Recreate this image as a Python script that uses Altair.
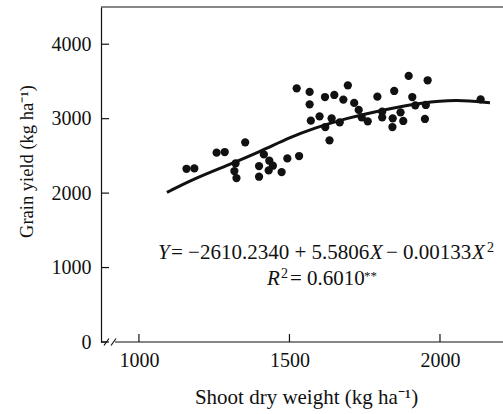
import altair as alt
import pandas as pd

# ---- data ----
shoot_dry_weight = [1158, 1184, 1258, 1285, 1353, 1321, 1317, 1324, 1399, 1399,
                    1415, 1433, 1445, 1431, 1474, 1493, 1532, 1524, 1567, 1567,
                    1571, 1600, 1618, 1619, 1633, 1640, 1649, 1679, 1667, 1694,
                    1715, 1730, 1740, 1760, 1792, 1808, 1808, 1842, 1843, 1848,
                    1869, 1878, 1896, 1908, 1918, 1950, 1953, 1959, 2135]
grain_yield = [2327, 2332, 2543, 2552, 2682, 2399, 2296, 2202, 2363, 2220,
               2520, 2435, 2368, 2305, 2283, 2466, 2498, 3408, 3359, 3193,
               2973, 3031, 3291, 2888, 2709, 3004, 3318, 3256, 2951, 3448,
               3211, 3117, 3018, 2964, 3296, 3094, 3018, 2888, 3004, 3372,
               3085, 2969, 3574, 3291, 3179, 2996, 3184, 3516, 3260]
fit_x = [1093, 1180, 1291, 1402, 1502, 1580, 1690, 1800, 1945, 2056, 2166]
fit_y = [2009, 2188, 2367, 2556, 2749, 2870, 3005, 3110, 3220, 3255, 3215]
x_ticks = [1000, 1500, 2000]
y_ticks = [0, 1000, 2000, 3000, 4000]

X_MIN, X_MAX = 874, 2206
Y_MIN, Y_MAX = 0, 4500
W, H = 401, 335
FONT = "Liberation Serif"
INK = "#111111"

xs = alt.Scale(domain=[X_MIN, X_MAX], nice=False, zero=False)
ys = alt.Scale(domain=[Y_MIN, Y_MAX], nice=False, zero=False)

x_axis = alt.Axis(values=x_ticks, format="d", title="Shoot dry weight (kg ha⁻¹)",
                  domain=False, ticks=False, grid=False, labelPadding=8,
                  titleX=205, titleY=61, titleBaseline="alphabetic",
                  titleAlign="center", titleFontSize=21)
y_axis = alt.Axis(values=y_ticks, format="d", title="Grain yield (kg ha⁻¹)",
                  domain=True, ticks=False, grid=False, labelPadding=10,
                  titleX=-69, titleY=154, titleBaseline="alphabetic",
                  titleAlign="center", titleFontSize=18.5)


def X(field):
    return alt.X(field, scale=xs, axis=x_axis)


def Y(field):
    return alt.Y(field, scale=ys, axis=y_axis)


pts = pd.DataFrame({"x": shoot_dry_weight, "y": grain_yield})
fit = pd.DataFrame({"x": fit_x, "y": fit_y})
xt = pd.DataFrame({"v": x_ticks, "z": [Y_MIN] * len(x_ticks)})
yt = pd.DataFrame({"v": y_ticks, "z": [X_MIN] * len(y_ticks)})
one = pd.DataFrame({"a": [0]})

points = alt.Chart(pts).mark_circle(size=68, color=INK, opacity=1).encode(
    x=X("x:Q"), y=Y("y:Q"))

curve = alt.Chart(fit).mark_line(color=INK, strokeWidth=3, interpolate="basis").encode(
    x=X("x:Q"), y=Y("y:Q"))

x_tick_marks = alt.Chart(xt).mark_tick(orient="vertical", size=8, thickness=1.2,
                                       yOffset=-4, color=INK, opacity=1).encode(
    x=X("v:Q"), y=Y("z:Q"))
y_tick_marks = alt.Chart(yt).mark_tick(orient="horizontal", size=8, thickness=1.2,
                                       xOffset=4, color=INK, opacity=1).encode(
    x=X("z:Q"), y=Y("v:Q"))


def seg(x1, y1, x2, y2):
    return alt.Chart(one).mark_rule(color=INK, strokeWidth=1.2).encode(
        x=alt.value(x1), y=alt.value(y1), x2=alt.value(x2), y2=alt.value(y2))


frame = [
    seg(0, 0, W + 2, 0),           # top border
    seg(0, H, 5, H),               # x axis stub before break
    seg(14, H, W + 2, H),          # x axis after break
    seg(3, H + 3.5, 8, H - 3.5),   # break slash 1
    seg(10, H + 3.5, 15, H - 3.5)  # break slash 2
]


def txt(s, x, y, size=21, style="normal", align="left"):
    return alt.Chart(one).mark_text(font=FONT, fontSize=size, fontStyle=style,
                                    align=align, baseline="alphabetic", color=INK).encode(
        x=alt.value(x), y=alt.value(y), text=alt.value(s))


L1, L2 = 252, 278
texts = [
    txt("Y", 57, L1, style="italic"),
    txt("= −2610.2340 + 5.5806", 70, L1),
    txt("X", 269, L1, style="italic"),
    txt("− 0.00133", 285, L1),
    txt("X", 371, L1, style="italic"),
    txt("2", 386, L1 - 7, size=14),
    txt("R", 166, L2, style="italic"),
    txt("2", 180, L2 - 7, size=14),
    txt("= 0.6010", 189, L2),
    txt("**", 263, L2 - 5, size=13),
]

chart = alt.layer(points, curve, x_tick_marks, y_tick_marks, *frame, *texts).properties(
    width=W, height=H,
    padding={"left": 101, "top": 7, "right": 1, "bottom": 72},
    autosize=alt.AutoSizeParams(type="none"),
    background="white",
).configure_view(stroke=None).configure_axis(
    labelFont=FONT, labelFontSize=20, labelColor=INK,
    titleFont=FONT, titleFontWeight="normal", titleColor=INK,
    domainColor=INK, domainWidth=1.2,
)

chart.save("out.html", embed_options={"renderer": "svg", "actions": False})
